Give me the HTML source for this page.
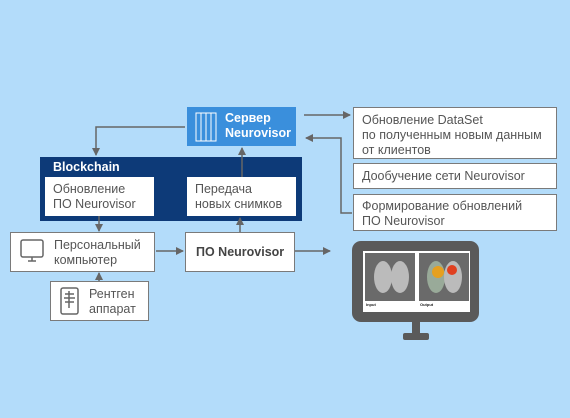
<!DOCTYPE html><html><head><meta charset="utf-8"><style>
body{margin:0;width:570px;height:418px;background:#b3dcfa;position:relative;overflow:hidden;font-family:"Liberation Sans",sans-serif;}
.b{position:absolute;background:#fff;border:1px solid #7a7a7a;box-sizing:border-box;color:#555;font-size:12.5px;line-height:15px;}
svg{position:absolute;left:0;top:0}
</style></head><body>
<div style="position:absolute;left:40px;top:157px;width:262px;height:64px;background:#0d3a78"></div>
<div style="position:absolute;left:53px;top:160px;color:#fff;font-weight:bold;font-size:12.5px">Blockchain</div>
<div style="position:absolute;left:187px;top:107px;width:109px;height:39px;background:#3a8fdc"></div>
<div style="position:absolute;left:225px;top:111px;color:#fff;font-weight:bold;font-size:12.5px;line-height:15px">Сервер<br>Neurovisor</div>
<div class="b" style="left:45px;top:177px;width:109px;height:39px;padding:5px 0 0 8px;border:none">Обновление<br>ПО Neurovisor</div>
<div class="b" style="left:187px;top:177px;width:109px;height:39px;padding:5px 0 0 8px;border:none">Передача<br>новых снимков</div>
<div class="b" style="left:10px;top:232px;width:145px;height:40px;padding:5px 0 0 43px">Персональный<br>компьютер</div>
<div class="b" style="left:185px;top:232px;width:110px;height:40px;padding:12px 0 0 10px;font-weight:bold;color:#444">ПО Neurovisor</div>
<div class="b" style="left:50px;top:281px;width:99px;height:40px;padding:5px 0 0 38px">Рентген<br>аппарат</div>
<div class="b" style="left:353px;top:107px;width:204px;height:52px;padding:5px 0 0 8px">Обновление DataSet<br>по полученным новым данным<br>от клиентов</div>
<div class="b" style="left:353px;top:163px;width:204px;height:26px;padding:5px 0 0 8px">Дообучение сети Neurovisor</div>
<div class="b" style="left:353px;top:194px;width:204px;height:37px;padding:4px 0 0 8px">Формирование обновлений<br>ПО Neurovisor</div>
<svg width="570" height="418">
<defs><marker id="a" markerWidth="8" markerHeight="8" refX="7" refY="4" orient="auto" markerUnits="userSpaceOnUse"><path d="M0,0L8,4L0,8z" fill="#666"/></marker></defs>
<g stroke="#666" stroke-width="1.5" fill="none">
<path d="M185,127H96V155" marker-end="url(#a)"/>
<path d="M242,177V148" marker-end="url(#a)"/>
<path d="M240,232V218" marker-end="url(#a)"/>
<path d="M99,216V231" marker-end="url(#a)"/>
<path d="M99,281V273" marker-end="url(#a)"/>
<path d="M156,251H183" marker-end="url(#a)"/>
<path d="M295,251H330" marker-end="url(#a)"/>
<path d="M304,115H350" marker-end="url(#a)"/>
<path d="M352,213H341V138H306" marker-end="url(#a)"/>
</g>
<g stroke="#666" stroke-width="1.5" fill="none">
<rect x="21" y="240" width="22" height="17" rx="2"/><path d="M28,261H36M32,257V261"/>
<rect x="61" y="288" width="17" height="26" rx="2"/><path d="M69,291V308M65,294H74M64,298H75M65,302H74"/>
<rect x="196" y="113" width="20" height="28" stroke="#fff" stroke-width="1"/>
<path d="M201,113V141M206,113V141M211,113V141" stroke="#fff" stroke-width="1"/>
</g>
<rect x="352" y="241" width="127" height="81" rx="9" fill="#5a5a5a"/>
<rect x="363" y="251" width="107" height="61" fill="#fff"/>
<rect x="365" y="253" width="50" height="48" fill="#6a6a6a"/>
<rect x="419" y="253" width="50" height="48" fill="#6a6a6a"/>
<ellipse cx="383" cy="277" rx="9" ry="16" fill="#bbb"/><ellipse cx="400" cy="277" rx="9" ry="16" fill="#bbb"/>
<ellipse cx="436" cy="277" rx="9" ry="16" fill="#9a9"/><ellipse cx="453" cy="277" rx="9" ry="16" fill="#bbb"/>
<circle cx="438" cy="272" r="6" fill="#e6a020"/><circle cx="452" cy="270" r="5" fill="#e04020"/>
<text x="366" y="306" font-size="4" font-weight="bold" fill="#222">Input</text>
<text x="420" y="306" font-size="4" font-weight="bold" fill="#222">Output</text>
<rect x="412" y="322" width="8" height="12" fill="#5a5a5a"/>
<rect x="403" y="333" width="26" height="7" rx="2" fill="#5a5a5a"/>
</svg>
</body></html>
